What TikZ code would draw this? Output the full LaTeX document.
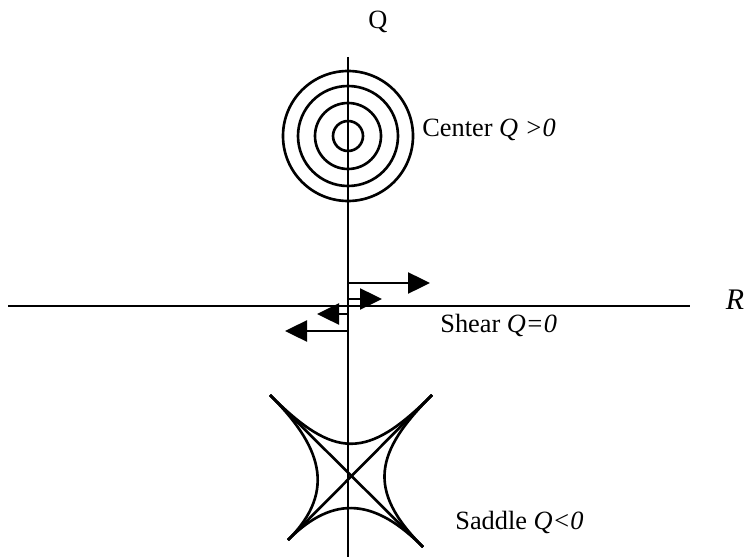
\documentclass[tikz,border=0pt]{standalone}
\usepackage{fontspec}
\setmainfont{Liberation Serif}
\usepackage{tikz}
\usetikzlibrary{arrows.meta,calc}
\tikzset{
  axis/.style={line width=1.1pt},
  orbit/.style={line width=1.5pt},
  lbl/.style={font=\fontsize{15}{18}\selectfont,inner sep=0pt},
  ar/.style={-{Triangle[length=4.4mm,width=4.2mm]},line width=1.4pt},
}
\begin{document}
\begin{tikzpicture}[x=0.02cm,y=-0.02cm]
  \useasboundingbox (0,0) rectangle (746,557);
  % axes
  \coordinate (qtop) at (348,57);
  \coordinate (qbot) at (348,557);
  \coordinate (rleft) at (8,306);
  \coordinate (rright) at (690,306);
  \draw[axis] (qtop) -- (qbot);
  \draw[axis] (rleft) -- (rright);
  \node[lbl] (qlab) at (378,22) {Q};
  \node[lbl,font=\fontsize{17}{20}\selectfont] (rlab) at (735,300) {\textit{R}};
  % center
  \coordinate (c) at (348,136);
  \foreach \r in {15,33,50,65} {\draw[orbit] (c) circle[radius=\r];}
  \node[lbl,anchor=west] (clab) at (422,130) {Center \textit{Q >0}};
  % shear
  \coordinate (s1) at (348,283);
  \coordinate (s2) at (348,299);
  \coordinate (s3) at (348,314);
  \coordinate (s4) at (348,331);
  \coordinate (e1) at (430,283);
  \coordinate (e2) at (382,299);
  \coordinate (e3) at (317,314);
  \coordinate (e4) at (285,331);
  \foreach \i in {1,2,3,4} {\draw[ar] (s\i) -- (e\i);}
  \node[lbl,anchor=west] (slab) at (440,325) {Shear \textit{Q=0}};
  % saddle
  \coordinate (tl) at (270,395);
  \coordinate (tr) at (432,395);
  \coordinate (bl) at (288,540);
  \coordinate (br) at (423,547);
  \draw[orbit] (tl) -- (br);
  \draw[orbit] (tr) -- (bl);
  \draw[orbit] (tl) .. controls ($(tl)+(65,65)$) and ($(tr)+(-65,65)$) .. (tr);
  \draw[orbit] (tl) .. controls ($(tl)+(50,50)$) and ($(bl)+(50,-50)$) .. (bl);
  \draw[orbit] (bl) .. controls ($(bl)+(47,-47)$) and ($(br)+(-47,-47)$) .. (br);
  \draw[orbit] (tr) .. controls ($(tr)+(-57,57)$) and ($(br)+(-57,-57)$) .. (br);
  \node[lbl,anchor=west] (dlab) at (455,522) {Saddle \textit{Q<0}};
\end{tikzpicture}
\end{document}
